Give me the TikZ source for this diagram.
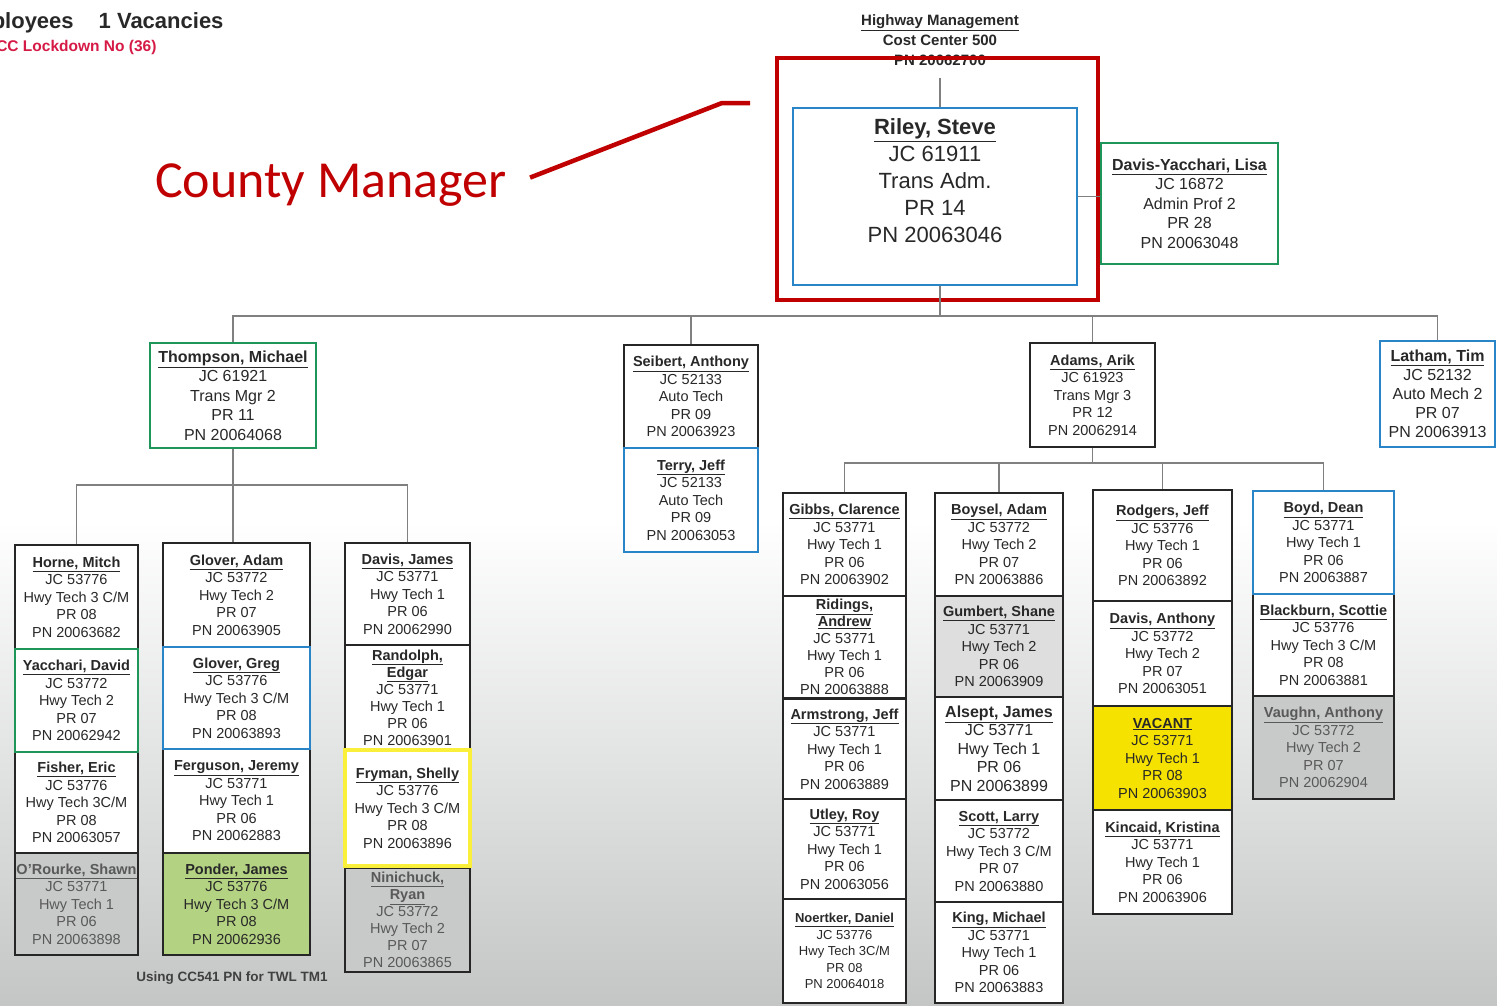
\documentclass[tikz,border=0pt]{standalone}
\usepackage{fontspec}
\setmainfont{Liberation Sans}
\newfontfamily\calloutfont{Carlito}
\definecolor{chartblue}{RGB}{42,132,200}
\definecolor{chartgreen}{RGB}{30,150,90}
\definecolor{chartyellow}{RGB}{250,240,60}
\definecolor{vacantyellow}{RGB}{246,226,0}
\definecolor{pondergreen}{RGB}{180,211,130}
\definecolor{slotgray}{RGB}{200,201,201}
\definecolor{lightslot}{RGB}{222,222,222}
\definecolor{bggray}{RGB}{196,198,198}
\definecolor{cmred}{RGB}{192,0,0}
\definecolor{lockred}{RGB}{214,26,70}
\definecolor{inkgray}{RGB}{40,40,40}

\newcommand{\empname}[1]{\underline{\textbf{#1}}}

\tikzset{
  wire/.style={draw=black!50,line width=1.3pt},
  empbox/.style={draw=black!85,line width=2.6pt,fill=white,align=center,inner sep=0pt,
    text=inkgray,font=\fontsize{14.5}{17.5}\selectfont},
  bluebox/.style={empbox,draw=chartblue},
  greenbox/.style={empbox,draw=chartgreen},
  yellowbox/.style={empbox,draw=chartyellow,line width=3.6pt},
  graybox/.style={empbox,fill=slotgray,text=black!65},
  callout/.style={draw=cmred,line width=4.5pt}
}

\begin{document}
\begin{tikzpicture}[x=1pt,y=-1pt]
\useasboundingbox (0,0) rectangle (1497,1005);
% paper
\fill[white] (0,0) rectangle (1497,1005);
\shade[top color=white,bottom color=bggray] (0,520) rectangle (1497,1005);

% page heading, cut at the left edge
\node[anchor=base east,text=inkgray,font=\bfseries\fontsize{22}{26}\selectfont] (tally) at (227,28) {Employees\hspace{25pt}1 Vacancies};
\node[anchor=base east,text=lockred,font=\bfseries\fontsize{15.5}{18}\selectfont] (lockdown) at (160,51) {CC Lockdown No (36)};

\node[align=center,inner sep=0pt,text=inkgray,font=\bfseries\fontsize{15}{20}\selectfont] (hdr) at (940,40) {\underline{Highway Management}\\Cost Center 500\\PN 20062700};

% administrator and assistant
\node[bluebox,font=\fontsize{22}{27}\selectfont,minimum width=284,minimum height=177] (riley) at (935,196.5) {\empname{Riley, Steve}\\JC 61911\\Trans Adm.\\PR 14\\PN 20063046\\[4pt]\mbox{}};
\node[greenbox,font=\fontsize{16}{19.5}\selectfont,minimum width=177,minimum height=121] (lisa) at (1189.5,203.5) {\empname{Davis-Yacchari, Lisa}\\JC 16872\\Admin Prof 2\\PR 28\\PN 20063048};

% highlight
\node[draw=cmred,line width=4.5pt,minimum width=321,minimum height=242,inner sep=0pt] (focus) at (937.5,179) {};
\node[anchor=base west,inner sep=0pt,text=cmred,font=\calloutfont\fontsize{52}{60}\selectfont] (cmlabel) at (155,197) {County Manager};
\coordinate (bend) at (722,103);
\coordinate (tip) at (750,103);
\draw[callout] ([xshift=23pt,yshift=7pt]cmlabel.east) -- (bend) -- (tip);

% second level
\node[greenbox,font=\fontsize{16}{19.5}\selectfont,minimum width=166,minimum height=105] (thompson) at (233,395.5) {\empname{Thompson, Michael}\\JC 61921\\Trans Mgr 2\\PR 11\\PN 20064068};
\node[empbox,minimum width=134,minimum height=103] (seibert) at (691,396.5) {\empname{Seibert, Anthony}\\JC 52133\\Auto Tech\\PR 09\\PN 20063923};
\node[bluebox,minimum width=134,minimum height=104] (terry) at (691,500) {\empname{Terry, Jeff}\\JC 52133\\Auto Tech\\PR 09\\PN 20063053};
\node[empbox,minimum width=125,minimum height=104] (adams) at (1092.5,395) {\empname{Adams, Arik}\\JC 61923\\Trans Mgr 3\\PR 12\\PN 20062914};
\node[bluebox,font=\fontsize{16}{19}\selectfont,minimum width=115,minimum height=106] (latham) at (1437.5,394) {\empname{Latham, Tim}\\JC 52132\\Auto Mech 2\\PR 07\\PN 20063913};

% Thompson crew
\node[empbox,minimum width=123,minimum height=104] (horne) at (76.5,597) {\empname{Horne, Mitch}\\JC 53776\\Hwy Tech 3 C/M\\PR 08\\PN 20063682};
\node[empbox,minimum width=123,minimum height=101] (fisher) at (76.5,802.5) {\empname{Fisher, Eric}\\JC 53776\\Hwy Tech 3C/M\\PR 08\\PN 20063057};
\node[graybox,minimum width=123,minimum height=102] (orourke) at (76.5,904) {\empname{O'Rourke, Shawn}\\JC 53771\\Hwy Tech 1\\PR 06\\PN 20063898};
\node[greenbox,minimum width=123,minimum height=103] (yacchari) at (76.5,700.5) {\empname{Yacchari, David}\\JC 53772\\Hwy Tech 2\\PR 07\\PN 20062942};

\node[empbox,minimum width=147,minimum height=104] (gloverA) at (236.5,595) {\empname{Glover, Adam}\\JC 53772\\Hwy Tech 2\\PR 07\\PN 20063905};
\node[empbox,minimum width=147,minimum height=104] (ferguson) at (236.5,801) {\empname{Ferguson, Jeremy}\\JC 53771\\Hwy Tech 1\\PR 06\\PN 20062883};
\node[empbox,fill=pondergreen,minimum width=147,minimum height=102] (ponder) at (236.5,904) {\empname{Ponder, James}\\JC 53776\\Hwy Tech 3 C/M\\PR 08\\PN 20062936};
\node[bluebox,minimum width=147,minimum height=102] (gloverG) at (236.5,698) {\empname{Glover, Greg}\\JC 53776\\Hwy Tech 3 C/M\\PR 08\\PN 20063893};

\node[empbox,minimum width=125,minimum height=102] (davisJ) at (407.5,594) {\empname{Davis, James}\\JC 53771\\Hwy Tech 1\\PR 06\\PN 20062990};
\node[empbox,font=\fontsize{14.5}{17}\selectfont,minimum width=125,minimum height=105] (randolph) at (407.5,697.5) {\empname{Randolph,}\\\empname{Edgar}\\JC 53771\\Hwy Tech 1\\PR 06\\PN 20063901};
\node[graybox,font=\fontsize{14.5}{17}\selectfont,minimum width=125,minimum height=104] (ninichuck) at (407.5,920) {\empname{Ninichuck,}\\\empname{Ryan}\\JC 53772\\Hwy Tech 2\\PR 07\\PN 20063865};
\node[yellowbox,minimum width=125,minimum height=116] (fryman) at (407.5,808) {\empname{Fryman, Shelly}\\JC 53776\\Hwy Tech 3 C/M\\PR 08\\PN 20063896};

\node[anchor=base,text=black!75,font=\bfseries\fontsize{13.5}{16}\selectfont] (twlnote) at (232,981) {Using CC541 PN for TWL TM1};

% Adams crew
\node[empbox,minimum width=123,minimum height=103] (gibbs) at (844.5,544.5) {\empname{Gibbs, Clarence}\\JC 53771\\Hwy Tech 1\\PR 06\\PN 20063902};
\node[empbox,font=\fontsize{14.5}{17}\selectfont,minimum width=123,minimum height=102] (ridings) at (844.5,647) {\empname{Ridings,}\\\empname{Andrew}\\JC 53771\\Hwy Tech 1\\PR 06\\PN 20063888};
\node[empbox,minimum width=123,minimum height=100] (armstrong) at (844.5,749) {\empname{Armstrong, Jeff}\\JC 53771\\Hwy Tech 1\\PR 06\\PN 20063889};
\node[empbox,minimum width=123,minimum height=100] (utley) at (844.5,849) {\empname{Utley, Roy}\\JC 53771\\Hwy Tech 1\\PR 06\\PN 20063056};
\node[empbox,font=\fontsize{13}{16.5}\selectfont,minimum width=123,minimum height=104] (noertker) at (844.5,951) {\empname{Noertker, Daniel}\\JC 53776\\Hwy Tech 3C/M\\PR 08\\PN 20064018};

\node[empbox,minimum width=128,minimum height=103] (boysel) at (999,544.5) {\empname{Boysel, Adam}\\JC 53772\\Hwy Tech 2\\PR 07\\PN 20063886};
\node[empbox,fill=lightslot,minimum width=128,minimum height=101] (gumbert) at (999,646.5) {\empname{Gumbert, Shane}\\JC 53771\\Hwy Tech 2\\PR 06\\PN 20063909};
\node[empbox,font=\fontsize{16}{18.5}\selectfont,minimum width=128,minimum height=103] (alsept) at (999,748.5) {\empname{Alsept, James}\\JC 53771\\Hwy Tech 1\\PR 06\\PN 20063899};
\node[empbox,minimum width=128,minimum height=102] (scott) at (999,851) {\empname{Scott, Larry}\\JC 53772\\Hwy Tech 3 C/M\\PR 07\\PN 20063880};
\node[empbox,minimum width=128,minimum height=101] (king) at (999,952.5) {\empname{King, Michael}\\JC 53771\\Hwy Tech 1\\PR 06\\PN 20063883};

\node[empbox,minimum width=139,minimum height=111] (rodgers) at (1162.5,545.5) {\empname{Rodgers, Jeff}\\JC 53776\\Hwy Tech 1\\PR 06\\PN 20063892};
\node[empbox,minimum width=139,minimum height=105] (davisA) at (1162.5,653.5) {\empname{Davis, Anthony}\\JC 53772\\Hwy Tech 2\\PR 07\\PN 20063051};
\node[empbox,minimum width=139,minimum height=104] (kincaid) at (1162.5,862) {\empname{Kincaid, Kristina}\\JC 53771\\Hwy Tech 1\\PR 06\\PN 20063906};
\node[empbox,fill=vacantyellow,minimum width=139,minimum height=104] (vacant) at (1162.5,758) {\empname{VACANT}\\JC 53771\\Hwy Tech 1\\PR 08\\PN 20063903};

\node[empbox,minimum width=141,minimum height=102] (blackburn) at (1323.5,645) {\empname{Blackburn, Scottie}\\JC 53776\\Hwy Tech 3 C/M\\PR 08\\PN 20063881};
\node[graybox,minimum width=141,minimum height=103] (vaughn) at (1323.5,747.5) {\empname{Vaughn, Anthony}\\JC 53772\\Hwy Tech 2\\PR 07\\PN 20062904};
\node[bluebox,minimum width=141,minimum height=103] (boyd) at (1323.5,542.5) {\empname{Boyd, Dean}\\JC 53771\\Hwy Tech 1\\PR 06\\PN 20063887};

% connectors
\coordinate (bus1) at (940,316);
\coordinate (bus2) at (233,485);
\coordinate (bus3) at (1092.5,463);
\draw[wire] ([yshift=-12pt]hdr.south) -- (hdr.south |- riley.north);
\draw[wire] (riley.east) -- (riley.east -| lisa.west);
\draw[wire] (bus1 |- riley.south) -- (bus1);
\draw[wire] (thompson.north) |- (bus1) -| (latham.north);
\draw[wire] (seibert.north) -- (seibert.north |- bus1);
\draw[wire] (adams.north) -- (adams.north |- bus1);
\draw[wire] (thompson.south) -- (thompson.south |- gloverA.north);
\draw[wire] (horne.north) |- (bus2) -| (davisJ.north);
\draw[wire] (adams.south) -- (bus3);
\draw[wire] (gibbs.north) |- (bus3) -| (boyd.north);
\draw[wire] (boysel.north) -- (boysel.north |- bus3);
\draw[wire] (rodgers.north) -- (rodgers.north |- bus3);
\end{tikzpicture}
\end{document}
